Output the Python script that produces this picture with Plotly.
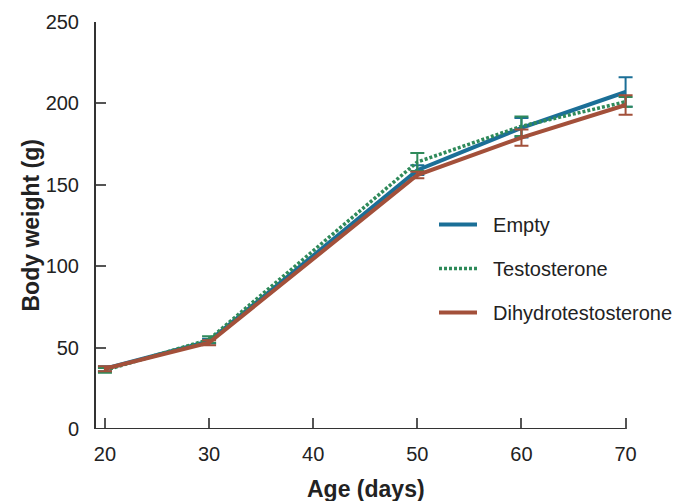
import plotly.graph_objects as go

ages = [20, 30, 50, 60, 70]
empty = [37, 54, 159, 185, 207]
empty_err = [1.5, 1.5, 3, 6, 9]
testo = [36, 55, 164, 186, 201]
testo_err = [1.5, 2, 5.5, 6, 3]
dht = [37, 53, 156, 179, 199]
dht_err = [1.5, 1.5, 2, 5, 6]
x_ticks = [20, 30, 40, 50, 60, 70]
y_ticks = [0, 50, 100, 150, 200, 250]

BLUE = "#1b6f97"
GREEN = "#2f8a5a"
BROWN = "#a3503a"
FONT = "Arial, Liberation Sans, sans-serif"

fig = go.Figure()
series = [
    ("Empty", empty, empty_err, BLUE, "solid", 4),
    ("Testosterone", testo, testo_err, GREEN, "3px,2px", 3.5),
    ("Dihydrotestosterone", dht, dht_err, BROWN, "solid", 4),
]
for i, (name, vals, err, col, dash, w) in enumerate(series):
    fig.add_trace(go.Scatter(
        x=ages, y=vals, name="&nbsp;&nbsp;" + name, mode="lines",
        line=dict(color=col, width=w, dash=dash),
        error_y=dict(type="data", array=err, color=col, thickness=2, width=7),
        legendgroup=f"g{i}",
    ))

fig.add_shape(type="line", x0=19.14, x1=70, y0=0, y1=0, xref="x", yref="y",
              line=dict(color="#333", width=2), layer="above")

pw = 689 - 96 - 53
ph = 501 - 22 - 72

fig.update_layout(
    width=689, height=501,
    margin=dict(l=96, r=53, t=22, b=72, autoexpand=False),
    paper_bgcolor="white", plot_bgcolor="white",
    font=dict(family=FONT, color="#222", size=20),
    showlegend=True,
    legend=dict(x=(434 - 96) / pw, y=(429 - 205) / ph, xanchor="left", yanchor="top",
                font=dict(size=20, family=FONT, color="#222"),
                itemwidth=38, tracegroupgap=15, bgcolor="rgba(0,0,0,0)"),
    xaxis=dict(range=[19.14, 71], tickvals=x_ticks, ticks="inside", ticklen=11,
               tickwidth=1.5, tickcolor="#555", showline=False, showgrid=False,
               zeroline=False, tickfont=dict(size=20, family=FONT, color="#222"),
               ticklabelstandoff=11),
    yaxis=dict(range=[0, 250], tickvals=y_ticks, ticks="inside", ticklen=10,
               tickwidth=1.5, tickcolor="#555", showline=True, linecolor="#333",
               linewidth=2, showgrid=False, zeroline=False,
               tickfont=dict(size=20, family=FONT, color="#222"),
               ticklabelstandoff=11),
)
fig.add_annotation(text="<b>Age (days)</b>", x=(366 - 96) / pw, y=-(489 - 429) / ph,
                   xref="paper", yref="paper", showarrow=False, yanchor="middle",
                   font=dict(size=23, family=FONT, color="#222"))
fig.add_annotation(text="<b>Body weight (g)</b>", x=-(96 - 30) / pw, y=0.5,
                   xref="paper", yref="paper", showarrow=False, textangle=-90,
                   xanchor="center", yanchor="middle",
                   font=dict(size=23, family=FONT, color="#222"))

fig.write_html("out.html")
